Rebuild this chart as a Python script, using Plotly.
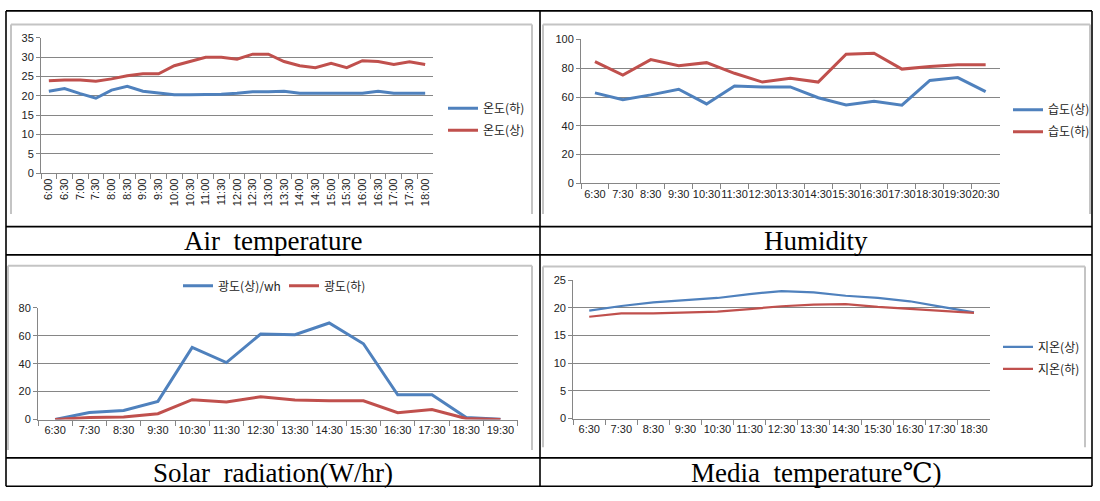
import plotly.graph_objects as go

W, H = 1100, 501

# ---------------- data ----------------
air_times = ["6:00", "6:30", "7:00", "7:30", "8:00", "8:30", "9:00", "9:30", "10:00", "10:30",
             "11:00", "11:30", "12:00", "12:30", "13:00", "13:30", "14:00", "14:30", "15:00",
             "15:30", "16:00", "16:30", "17:00", "17:30", "18:00"]
air_low = [21.2, 21.9, 20.6, 19.4, 21.5, 22.5, 21.2, 20.7, 20.3, 20.3, 20.4, 20.4, 20.7, 21.1,
           21.1, 21.2, 20.7, 20.7, 20.7, 20.7, 20.7, 21.2, 20.7, 20.7, 20.7]
air_high = [23.9, 24.1, 24.1, 23.8, 24.4, 25.2, 25.7, 25.7, 27.8, 28.9, 30.0, 30.0, 29.5, 30.8,
            30.8, 28.9, 27.8, 27.3, 28.4, 27.3, 29.1, 28.9, 28.1, 28.8, 28.1]

hum_times = ["6:30", "7:30", "8:30", "9:30", "10:30", "11:30", "12:30", "13:30", "14:30",
             "15:30", "16:30", "17:30", "18:30", "19:30", "20:30"]
hum_high = [62.9, 58.1, 61.5, 65.4, 55.2, 67.6, 67.0, 67.0, 59.5, 54.5, 57.0, 54.3, 71.5, 73.5, 63.8]
hum_low = [84.6, 75.3, 86.0, 81.7, 83.9, 76.5, 70.4, 73.1, 70.4, 89.8, 90.5, 79.4, 81.2, 82.4, 82.4]

sol_times = ["6:30", "7:30", "8:30", "9:30", "10:30", "11:30", "12:30", "13:30", "14:30",
             "15:30", "16:30", "17:30", "18:30", "19:30"]
sol_high = [0.0, 5.1, 6.5, 13.0, 51.7, 40.8, 61.3, 60.8, 69.2, 54.3, 17.7, 17.7, 1.4, 0.2]
sol_low = [0.0, 1.4, 1.9, 4.2, 14.2, 12.6, 16.3, 14.0, 13.5, 13.5, 4.9, 7.2, 0.7, 0.0]

med_times = ["6:30", "7:30", "8:30", "9:30", "10:30", "11:30", "12:30", "13:30", "14:30",
             "15:30", "16:30", "17:30", "18:30"]
med_high = [19.5, 20.35, 21.0, 21.35, 21.8, 22.5, 23.05, 22.8, 22.2, 21.8, 21.2, 20.2, 19.2]
med_low = [18.4, 19.0, 19.0, 19.2, 19.35, 19.8, 20.3, 20.6, 20.7, 20.2, 19.8, 19.4, 19.1]

titles = ["Air\u00a0 temperature", "Humidity", "Solar\u00a0 radiation(W/hr)", "Media\u00a0 temperature\u2103)"]

BLUE = "#4F81BD"
RED = "#C0504D"
GRID = "#868686"
TICKFONT = dict(family="Liberation Sans, Noto Sans CJK KR", size=11, color="#222222")
LEGFONT = dict(family="Noto Sans CJK KR, Liberation Sans", size=12, color="#222222")


def px(x):
    return x / W


def py(y):
    return 1 - y / H


fig = go.Figure()

# panel 1: air temperature
fig.add_trace(go.Scatter(x=air_times, y=air_low, name="온도(하)", mode="lines",
                         line=dict(color=BLUE, width=3), xaxis="x", yaxis="y",
                         legend="legend", legendgroup="a1"))
fig.add_trace(go.Scatter(x=air_times, y=air_high, name="온도(상)", mode="lines",
                         line=dict(color=RED, width=3), xaxis="x", yaxis="y",
                         legend="legend", legendgroup="a2"))
# panel 2: humidity
fig.add_trace(go.Scatter(x=hum_times, y=hum_high, name="습도(상)", mode="lines",
                         line=dict(color=BLUE, width=3), xaxis="x2", yaxis="y2",
                         legend="legend2", legendgroup="b1"))
fig.add_trace(go.Scatter(x=hum_times, y=hum_low, name="습도(하)", mode="lines",
                         line=dict(color=RED, width=3), xaxis="x2", yaxis="y2",
                         legend="legend2", legendgroup="b2"))
# panel 3: solar radiation
fig.add_trace(go.Scatter(x=sol_times, y=sol_high, name="광도(상)/wh", mode="lines",
                         line=dict(color=BLUE, width=3), xaxis="x3", yaxis="y3",
                         legend="legend3"))
fig.add_trace(go.Scatter(x=sol_times, y=sol_low, name="광도(하)", mode="lines",
                         line=dict(color=RED, width=3), xaxis="x3", yaxis="y3",
                         legend="legend3"))
# panel 4: media temperature
fig.add_trace(go.Scatter(x=med_times, y=med_high, name="지온(상)", mode="lines",
                         line=dict(color=BLUE, width=2.2), xaxis="x4", yaxis="y4",
                         legend="legend4", legendgroup="d1"))
fig.add_trace(go.Scatter(x=med_times, y=med_low, name="지온(하)", mode="lines",
                         line=dict(color=RED, width=2.2), xaxis="x4", yaxis="y4",
                         legend="legend4", legendgroup="d2"))


def xax(domain, anchor, cats, angle=0):
    return dict(domain=domain, anchor=anchor, type="category", categoryorder="array",
                categoryarray=cats, range=[-0.5, len(cats) - 0.5], showgrid=False,
                showline=True, linecolor=GRID, linewidth=1, ticks="outside", ticklen=5,
                tickcolor=GRID, tickson="boundaries", tickfont=TICKFONT, tickangle=angle,
                tickmode="array", tickvals=cats, ticktext=cats, zeroline=False, fixedrange=True)


def yax(domain, anchor, top, step):
    return dict(domain=domain, anchor=anchor, range=[0, top], dtick=step, tick0=0,
                showgrid=True, gridcolor=GRID, gridwidth=1, showline=True, linecolor=GRID,
                linewidth=1, ticks="outside", ticklen=4, tickcolor=GRID, tickfont=TICKFONT,
                zeroline=False, fixedrange=True)


layout = dict(
    width=W, height=H, margin=dict(l=0, r=0, t=0, b=0),
    paper_bgcolor="white", plot_bgcolor="white", showlegend=True,
    xaxis=xax([px(41), px(433)], "y", air_times, angle=-90),
    yaxis=yax([py(171.3), py(32.7)], "x", 35, 5),
    xaxis2=xax([px(581), px(999.6)], "y2", hum_times),
    yaxis2=yax([py(181.7), py(34.3)], "x2", 100, 20),
    xaxis3=xax([px(38), px(517.6)], "y3", sol_times),
    yaxis3=yax([py(423.7), py(309.3)], "x3", 80, 20),
    xaxis4=xax([px(573.2), px(990)], "y4", med_times),
    yaxis4=yax([py(422.7), py(281)], "x4", 25, 5),
    legend=dict(x=px(443), y=py(116), xanchor="left", yanchor="middle", font=LEGFONT,
                traceorder="grouped", tracegroupgap=3, bgcolor="rgba(0,0,0,0)"),
    legend2=dict(x=px(1008), y=py(117.5), xanchor="left", yanchor="middle", font=LEGFONT,
                 traceorder="grouped", tracegroupgap=3, bgcolor="rgba(0,0,0,0)"),
    legend3=dict(x=px(178), y=py(286.7), xanchor="left", yanchor="middle", font=LEGFONT,
                 orientation="h", entrywidth=61, entrywidthmode="pixels",
                 bgcolor="rgba(0,0,0,0)"),
    legend4=dict(x=px(998), y=py(360.5), xanchor="left", yanchor="middle", font=LEGFONT,
                 traceorder="grouped", tracegroupgap=3, bgcolor="rgba(0,0,0,0)"),
)
fig.update_layout(**layout)

# cell titles
title_pos = [(273, 241), (816, 241), (273, 478), (816, 478)]
for t, (tx, ty) in zip(titles, title_pos):
    fig.add_annotation(text=t, x=px(tx), y=py(ty), xref="paper", yref="paper",
                       showarrow=False, xanchor="center", yanchor="middle",
                       font=dict(family="Liberation Serif, DejaVu Serif", size=27, color="black"))

shapes = []
# light-gray chart-area frames (top, left, right edges)
FRAME = "#c4c4c4"
frames = [(11, 19, 532, 213), (543, 19, 1090, 213), (8, 266, 532, 455), (543, 267, 1085, 452)]
for (x0, y0, x1, y1) in frames:
    for (a, b, c, d) in [(x0, y0, x1, y0), (x0, y0, x0, y1), (x1, y0, x1, y1)]:
        shapes.append(dict(type="line", xref="paper", yref="paper", x0=px(a), y0=py(b),
                           x1=px(c), y1=py(d), line=dict(color=FRAME, width=2)))

# black table lines
BL = dict(color="black", width=1.6)
table_lines = [(6, 5, 1092, 5), (6, 492, 1092, 492), (6, 5, 6, 492), (1092, 5, 1092, 492),
               (540, 5, 540, 492), (6, 226, 1092, 226), (6, 255, 1092, 255), (6, 463, 1092, 463)]
for (a, b, c, d) in table_lines:
    shapes.append(dict(type="line", xref="paper", yref="paper", x0=px(a), y0=py(b),
                       x1=px(c), y1=py(d), line=BL))
fig.update_layout(shapes=shapes)

fig.write_html("out.html", config={"displayModeBar": False},
               post_script="document.body.style.margin='0';")
